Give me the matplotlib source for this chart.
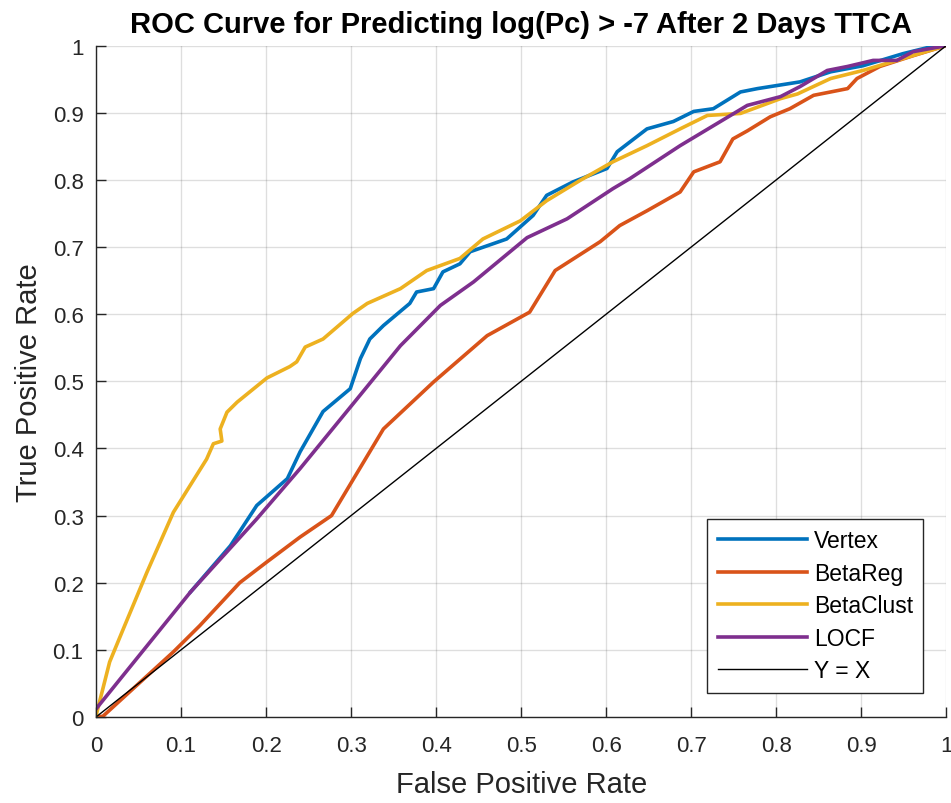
import numpy as np
import matplotlib
matplotlib.use('Agg')
import matplotlib.pyplot as plt

plt.rcParams['font.family'] = ['Liberation Sans', 'DejaVu Sans']

# ROC points (FPR, TPR)
vertex_fpr = [0.111, 0.158, 0.189, 0.225, 0.240, 0.267, 0.299, 0.311, 0.322, 0.338, 0.369, 0.377,
              0.397, 0.408, 0.428, 0.440, 0.483, 0.514, 0.530, 0.561, 0.601, 0.613, 0.648, 0.679,
              0.703, 0.726, 0.758, 0.778, 0.828, 0.864, 0.902, 0.949, 0.981, 1.0]
vertex_tpr = [0.186, 0.255, 0.315, 0.355, 0.395, 0.455, 0.489, 0.534, 0.563, 0.583, 0.616, 0.633,
              0.638, 0.663, 0.675, 0.693, 0.712, 0.747, 0.777, 0.797, 0.817, 0.842, 0.876, 0.887,
              0.902, 0.906, 0.931, 0.936, 0.946, 0.961, 0.970, 0.988, 0.998, 1.0]

betareg_fpr = [0.0, 0.008, 0.091, 0.122, 0.169, 0.201, 0.240, 0.277, 0.338, 0.397, 0.460, 0.510,
               0.540, 0.593, 0.616, 0.648, 0.687, 0.703, 0.734, 0.749, 0.766, 0.793, 0.816,
               0.844, 0.884, 0.895, 0.922, 0.961, 1.0]
betareg_tpr = [0.0, 0.001, 0.097, 0.136, 0.200, 0.231, 0.268, 0.300, 0.429, 0.499, 0.568, 0.603,
               0.665, 0.708, 0.732, 0.754, 0.782, 0.812, 0.827, 0.861, 0.873, 0.894, 0.906,
               0.926, 0.936, 0.951, 0.969, 0.985, 1.0]

betaclust_fpr = [0.0, 0.001, 0.016, 0.032, 0.060, 0.091, 0.130, 0.138, 0.148, 0.146, 0.154, 0.166,
                 0.201, 0.228, 0.236, 0.246, 0.267, 0.302, 0.319, 0.358, 0.389, 0.428, 0.455,
                 0.499, 0.530, 0.569, 0.608, 0.648, 0.687, 0.719, 0.758, 0.805, 0.825, 0.864,
                 0.902, 0.942, 0.981, 1.0]
betaclust_tpr = [0.0, 0.007, 0.082, 0.131, 0.216, 0.305, 0.384, 0.407, 0.411, 0.429, 0.454, 0.469,
                 0.505, 0.522, 0.529, 0.551, 0.563, 0.601, 0.616, 0.638, 0.665, 0.683, 0.712,
                 0.739, 0.769, 0.799, 0.827, 0.851, 0.876, 0.896, 0.899, 0.921, 0.928, 0.951,
                 0.963, 0.978, 0.993, 1.0]

locf_fpr = [0.0, 0.111, 0.189, 0.240, 0.302, 0.358, 0.405, 0.444, 0.507, 0.554, 0.608, 0.628,
            0.687, 0.766, 0.805, 0.828, 0.860, 0.884, 0.914, 0.942, 0.961, 1.0]
locf_tpr = [0.012, 0.186, 0.295, 0.370, 0.466, 0.553, 0.613, 0.648, 0.714, 0.742, 0.787, 0.802,
            0.851, 0.911, 0.924, 0.939, 0.963, 0.969, 0.978, 0.978, 0.991, 1.0]

fig = plt.figure(figsize=(9.51, 8.04), dpi=100)
ax = fig.add_axes([0.101, 0.107, 0.894, 0.835])

ax.plot(vertex_fpr, vertex_tpr, color='#0072BD', lw=2.6, label='Vertex')
ax.plot(betareg_fpr, betareg_tpr, color='#D95319', lw=2.6, label='BetaReg')
ax.plot(betaclust_fpr, betaclust_tpr, color='#EDB120', lw=2.6, label='BetaClust')
ax.plot(locf_fpr, locf_tpr, color='#7E2F8E', lw=2.6, label='LOCF')
ax.plot([0, 1], [0, 1], color='black', lw=1.0, label='Y = X')

ticks = np.round(np.arange(0, 1.01, 0.1), 1)
ticklabels = ['0'] + ['%.1f' % t for t in ticks[1:-1]] + ['1']
ax.set_xlim(0, 1)
ax.set_ylim(0, 1)
ax.set_xticks(ticks)
ax.set_yticks(ticks)
ax.set_xticklabels(ticklabels)
ax.set_yticklabels(ticklabels)
ax.tick_params(direction='in', length=7, width=1, labelsize=16, colors='#262626')
ax.tick_params(axis='x', pad=13)
ax.tick_params(axis='y', pad=9)
ax.grid(True, color='#262626', alpha=0.15, lw=1)
ax.spines['top'].set_visible(False)
ax.spines['right'].set_visible(False)
for s in ['left', 'bottom']:
    ax.spines[s].set_color('#262626')
    ax.spines[s].set_linewidth(1)

ax.set_xlabel('False Positive Rate', fontsize=21, color='#262626', labelpad=10)
ax.set_ylabel('True Positive Rate', fontsize=21, color='#262626', labelpad=7)
ax.set_title('ROC Curve for Predicting log(Pc) > -7 After 2 Days TTCA', fontsize=21,
             fontweight='bold', pad=10)

leg = ax.legend(loc='lower right', bbox_to_anchor=(0.973, 0.036), fontsize=16.5, fancybox=False,
                framealpha=1, edgecolor='#262626', handlelength=3.9, borderpad=0.45,
                labelspacing=0.42, handletextpad=0.3, borderaxespad=0)
leg.get_frame().set_linewidth(1)

fig.savefig('out.png', dpi=100)
